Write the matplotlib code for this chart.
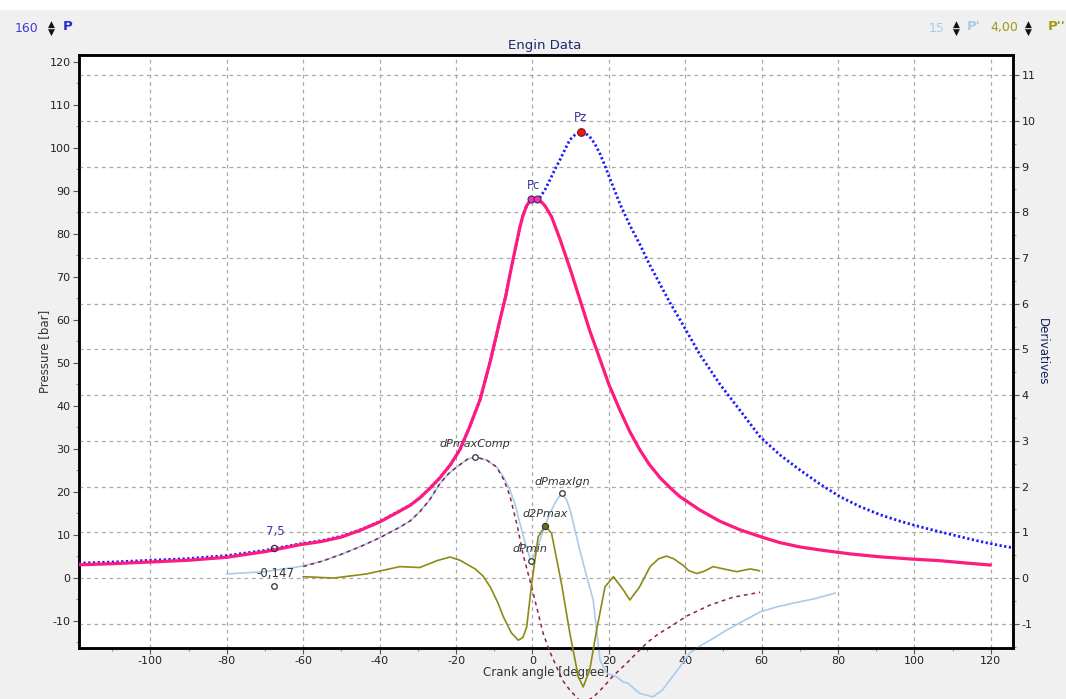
import matplotlib
matplotlib.use("Agg")
import matplotlib.pyplot as plt
from matplotlib.patches import Rectangle
from matplotlib.ticker import MultipleLocator

plt.rcParams["axes.unicode_minus"] = False

# ---------------- data ----------------
# motoring pressure (pink) [bar]
pm_x = [-120, -110, -100, -90, -80, -70, -61, -55, -50, -45, -40, -35, -32, -29.5, -27,
        -24.2, -21.5, -19, -16.5, -13.7, -11, -8.5, -7, -5.9, -4.5, -3.3, -2.5, -1.5,
        -0.5, 0.5, 1.5, 2.5, 3.3, 5, 7.2, 10, 12.4, 15, 17.7, 20, 22.9, 25.5, 28.1,
        30.5, 33.4, 36, 38.6, 43.8, 49, 54.3, 60, 64.8, 70, 75.3, 83, 91, 99, 106.7,
        113, 119.8]
pm_y = [3.0, 3.3, 3.7, 4.1, 4.8, 6.1, 7.7, 8.5, 9.5, 11.1, 13.0, 15.4, 16.9, 18.6, 20.7,
        23.3, 26.3, 29.8, 35.0, 41.5, 50.5, 60.0, 65.5, 70.5, 76.5, 81.5, 84.2, 86.6,
        87.8, 88.1, 87.9, 87.3, 86.5, 84.0, 78.8, 71.5, 64.8, 57.5, 50.8, 45.0, 39.0,
        34.0, 29.8, 26.5, 23.3, 21.0, 18.9, 15.8, 13.2, 11.2, 9.5, 8.2, 7.2, 6.5, 5.6,
        4.9, 4.4, 4.0, 3.5, 3.0]

# fired pressure (blue dotted) [bar]
pf_x = [-120, -110, -100, -90, -80, -70, -61, -55, -50, -45, -40, -35, -32, -29.5, -27,
        -24.2, -21.5, -19, -16.5, -13.7, -11, -8.5, -7, -5.9, -4.5, -3.3, -2.5, -1.5,
        -0.5, 0.5, 1, 2, 3.3, 4.6, 5.9, 7.2, 8.5, 9.8, 11.1, 12.4, 13.7, 15, 16.3, 17.7,
        19, 20.3, 22.9, 25.5, 28.1, 30.7, 33.4, 36, 38.6, 43.8, 49.1, 54.3, 59.6, 64.8,
        70, 75.3, 80.5, 85.7, 91, 96.2, 101.4, 106.7, 111.9, 117.1, 122, 125.8]
pf_y = [3.4, 3.7, 4.1, 4.5, 5.2, 6.4, 7.9, 8.7, 9.7, 11.2, 13.1, 15.5, 16.9, 18.6, 20.7,
        23.3, 26.3, 29.8, 35.0, 41.5, 50.5, 60.0, 65.5, 70.5, 76.5, 81.5, 84.2, 86.6,
        87.8, 88.1, 88.2, 88.5, 90.3, 92.6, 95.0, 97.2, 99.6, 101.9, 103.0, 103.7,
        103.5, 102.6, 101.0, 98.6, 95.8, 92.8, 87.0, 82.0, 77.6, 72.8, 68.3, 64.0,
        60.1, 52.0, 45.0, 39.0, 32.8, 28.6, 25.1, 21.8, 18.9, 16.6, 14.7, 13.2, 11.9,
        10.7, 9.6, 8.5, 7.6, 7.0]

# first derivative, fired (light blue)
d1_x = [-80, -70, -61, -55, -50, -45, -40, -35, -32, -29.5, -27, -24.2, -22, -19.8, -17,
        -15, -12, -9.4, -7.5, -5.9, -4.5, -3.3, -2, -0.4, 1, 2, 3.3, 4.6, 6.3, 7.7, 9,
        10, 11, 12.4, 14, 15.9, 17, 17.7, 19.4, 22, 23.7, 25, 28, 31.5, 34, 36, 38.5,
        41.2, 44, 46.5, 50.8, 55, 59.6, 64, 68.2, 74, 79.2]
d1_v = [0.09, 0.14, 0.25, 0.37, 0.52, 0.69, 0.88, 1.10, 1.25, 1.45, 1.70, 2.07, 2.28,
        2.43, 2.60, 2.65, 2.58, 2.43, 2.20, 1.93, 1.60, 1.20, 0.80, 0.37, 0.60, 0.83,
        1.15, 1.42, 1.70, 1.86, 1.70, 1.45, 1.10, 0.61, 0.10, -0.48, -1.30, -1.79,
        -2.08, -2.16, -2.27, -2.30, -2.52, -2.60, -2.45, -2.23, -1.95, -1.64, -1.48,
        -1.36, -1.14, -0.95, -0.74, -0.63, -0.55, -0.45, -0.33]

# first derivative, motoring (dashed maroon)
d1m_x = [-60, -55, -50, -45, -40, -35, -32, -29.5, -27, -24.2, -22, -19.8, -17, -15,
         -12, -9.4, -7.5, -5.9, -4, -2.4, 0.2, 2.8, 4.5, 6.3, 8, 9.8, 12, 13.7, 16,
         18.5, 21, 24.7, 27.5, 30.2, 33, 36, 40.4, 46.5, 52.5, 59.6]
d1m_v = [0.25, 0.37, 0.52, 0.69, 0.88, 1.10, 1.25, 1.45, 1.70, 2.07, 2.28, 2.43, 2.60,
         2.65, 2.58, 2.43, 2.15, 1.80, 1.15, 0.50, -0.33, -1.21, -1.60, -1.94, -2.25,
         -2.45, -2.65, -2.72, -2.60, -2.39, -2.15, -1.86, -1.62, -1.40, -1.22, -1.07,
         -0.83, -0.59, -0.42, -0.31]

# second derivative (olive)
d2_x = [-60, -52, -43.4, -34.7, -29.5, -25, -21.6, -19, -15, -13, -11, -9, -7.6, -5.5,
        -3.7, -2.5, -1.5, -0.2, 1.5, 3.3, 5.0, 7.6, 9.8, 12, 13.3, 15, 16.8, 19, 21.2,
        23.8, 25.5, 28, 30.8, 33, 35.1, 37, 39.4, 41, 43, 45, 47.3, 50, 53.5, 57, 59.4]
d2_v = [0.03, 0.0, 0.09, 0.25, 0.23, 0.38, 0.46, 0.39, 0.20, 0.05, -0.20, -0.55, -0.85,
        -1.20, -1.36, -1.30, -1.07, -0.12, 0.90, 1.14, 0.98, -0.12, -1.21, -2.16, -2.38,
        -2.01, -1.14, -0.19, 0.03, -0.26, -0.48, -0.20, 0.25, 0.42, 0.48, 0.42, 0.28,
        0.16, 0.10, 0.15, 0.25, 0.20, 0.14, 0.20, 0.16]

# tick values
x_ticks = [-100, -80, -60, -40, -20, 0, 20, 40, 60, 80, 100, 120]
p_ticks = [-10, 0, 10, 20, 30, 40, 50, 60, 70, 80, 90, 100, 110, 120]
d_ticks = [-1, 0, 1, 2, 3, 4, 5, 6, 7, 8, 9, 10, 11]

# annotated points
pc_x = [-0.5, 1.3]
pc_y = [88.0, 88.0]
pz_point = (12.7, 103.8)
p75_point = (-67.6, 7.0)
d0147_point = (-67.6, -0.17)
dpmaxcomp_point = (-15.0, 2.65)
dpmaxign_point = (7.7, 1.86)
d2pmax_point = (3.2, 1.14)
dpmin_point = (-0.4, 0.37)

# ---------------- figure ----------------
W, H = 1066, 699
fig = plt.figure(figsize=(W / 100, H / 100), dpi=100, facecolor="#f0f0f0")
fig.add_artist(Rectangle((0, 1 - 10 / H), 1, 10 / H, transform=fig.transFigure,
                         facecolor="white", edgecolor="none"))

L, R, T, B = 79, 1013, 55, 648
ax = fig.add_axes([L / W, 1 - B / H, (R - L) / W, (B - T) / H])
ax.set_facecolor("white")
ax2 = ax.twinx()

ax.set_xlim(-118.7, 125.8)
ax.set_ylim(-16.3, 121.6)
ax2.set_ylim(-1.53, 11.44)

grid_col = "#a8a8a8"
for xv in x_ticks:
    ax.axvline(xv, color=grid_col, lw=0.9, ls=(0, (3, 3)), zorder=0)
for dv in d_ticks:
    ax2.axhline(dv, color=grid_col, lw=0.9, ls=(0, (3, 3)), zorder=0)

pink = "#ff1a80"
blue = "#1a1aff"
lblue = "#a9cbec"
maroon = "#8e1f52"
olive = "#8c8a12"

# derivatives (right axis), not clipped as in reference
ax2.plot(d1_x, d1_v, color=lblue, lw=1.2, clip_on=False, zorder=2)
ax2.plot(d1m_x, d1m_v, color=maroon, lw=1.1, ls=(0, (2.5, 2.5)), clip_on=False, zorder=3)
ax2.plot(d2_x, d2_v, color=olive, lw=1.2, clip_on=False, zorder=3)

# pressures (left axis) drawn on ax2 via transform
ax2.plot(pf_x, pf_y, color=blue, lw=2.0, ls=(0, (0.8, 0.9)), transform=ax.transData,
         zorder=4)
ax2.plot(pm_x, pm_y, color=pink, lw=2.3, transform=ax.transData, zorder=5)

# markers
ax2.plot(pc_x, pc_y, "o", ms=5, mfc="#ff3399", mec="#3a2a8a", mew=0.8,
         transform=ax.transData, zorder=6)
ax2.plot([pz_point[0]], [pz_point[1]], "o", ms=5.5, mfc="#ff1010", mec="#602020",
         mew=0.8, transform=ax.transData, zorder=6)
ax2.plot([p75_point[0]], [p75_point[1]], "o", ms=4.5, mfc="none", mec="#333333",
         mew=0.9, transform=ax.transData, zorder=6)
for pt in (d0147_point, dpmaxcomp_point, dpmaxign_point, dpmin_point):
    ax2.plot([pt[0]], [pt[1]], "o", ms=4, mfc="white", mec="#333333", mew=0.9,
             zorder=6)
ax2.plot([d2pmax_point[0]], [d2pmax_point[1]], "o", ms=4.5, mfc="#6b6a10",
         mec="#333333", mew=0.8, zorder=6)

lab_col = "#3a3a9a"
ax2.text(0.3, 89.8, "Pc", transform=ax.transData, ha="center", va="bottom",
         fontsize=8.5, color=lab_col)
ax2.text(pz_point[0], 105.6, "Pz", transform=ax.transData, ha="center",
         va="bottom", fontsize=8.5, color=lab_col)
ax2.text(-67.3, 9.3, "7,5", transform=ax.transData, ha="center", va="bottom",
         fontsize=8.5, color=lab_col)
ax2.text(-67.3, 0.1, "-0,147", ha="center", va="center", fontsize=8.5,
         color="#333333")
ital = dict(fontsize=8, color="#333333", style="italic", ha="center", va="bottom")
ax2.text(-15.0, 2.83, "dPmaxComp", **ital)
ax2.text(7.8, 1.99, "dPmaxIgn", **ital)
ax2.text(3.3, 1.29, "d2Pmax", **ital)
ax2.text(-0.7, 0.53, "dPmin", **ital)

# ticks / spines
ax.set_xticks(x_ticks)
ax.set_yticks(p_ticks)
ax2.set_yticks(d_ticks)
ax.xaxis.set_minor_locator(MultipleLocator(10))
ax.yaxis.set_minor_locator(MultipleLocator(5))
ax2.yaxis.set_minor_locator(MultipleLocator(0.5))
for a in (ax, ax2):
    a.tick_params(which="major", length=4, width=0.8, color="#555555",
                  labelsize=8, labelcolor="#222222", direction="out", pad=2)
    a.tick_params(which="minor", length=2, width=0.6, color="#777777",
                  direction="out")
    for s in a.spines.values():
        s.set_linewidth(1.8)
        s.set_color("black")

ax.set_ylabel("Pressure [bar]", fontsize=8.5, color="#333333", labelpad=-1)
ax.set_xlabel("Crank angle [degree]", fontsize=8.5, color="#333333", labelpad=0)
ax2.set_ylabel("Derivatives", fontsize=8.5, color="#1a2060", rotation=270,
               labelpad=10)

fig.text(545 / W, 1 - 45 / H, "Engin Data", ha="center", va="center",
         fontsize=9.5, color="#1f2a6b")

# top controls
def fy(y):
    return 1 - y / H

spin = dict(ha="center", va="center", fontsize=6.5, color="#111111")
fig.text(38 / W, fy(28), "160", ha="right", va="center", fontsize=9, color="#3b3bdf")
fig.text(51 / W, fy(24), "▲", **spin)
fig.text(51 / W, fy(32), "▼", **spin)
fig.text(63 / W, fy(27), "P", ha="left", va="center", fontsize=9.5, color="#2a2acc",
         fontweight="bold")

fig.text(945 / W, fy(28), "15", ha="right", va="center", fontsize=9, color="#a9cbec")
fig.text(956 / W, fy(24), "▲", **spin)
fig.text(956 / W, fy(32), "▼", **spin)
fig.text(967 / W, fy(27), "P'", ha="left", va="center", fontsize=9.5, color="#a9cbec",
         fontweight="bold")

fig.text(1018 / W, fy(28), "4,00", ha="right", va="center", fontsize=9, color="#a09a10")
fig.text(1028 / W, fy(24), "▲", **spin)
fig.text(1028 / W, fy(32), "▼", **spin)
fig.text(1048 / W, fy(27), "P''", ha="left", va="center", fontsize=9.5, color="#a09a10",
         fontweight="bold")

fig.savefig("out.png", dpi=100, facecolor=fig.get_facecolor())
